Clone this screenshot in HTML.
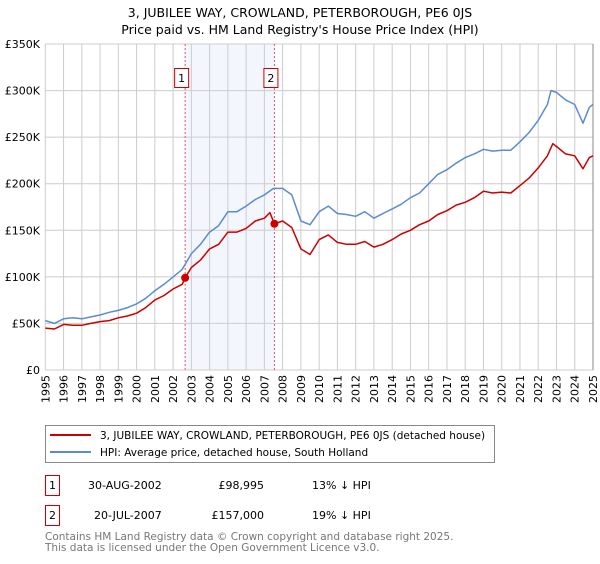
<!DOCTYPE html>
<html><head><meta charset="utf-8"><style>
body{margin:0;background:#fff;font-family:"DejaVu Sans","Liberation Sans",sans-serif;}
svg text{font-family:"DejaVu Sans","Liberation Sans",sans-serif;}
</style></head><body>
<svg id="c" width="600" height="560" viewBox="0 0 600 560" xmlns="http://www.w3.org/2000/svg">
<text x="300" y="17" text-anchor="middle" font-size="12.5" fill="#000">3, JUBILEE WAY, CROWLAND, PETERBOROUGH, PE6 0JS</text>
<text x="300" y="34" text-anchor="middle" font-size="12.5" fill="#000">Price paid vs. HM Land Registry's House Price Index (HPI)</text>
<g id="plot"></g>
<g>
<rect x="45.5" y="425.5" width="449" height="37" fill="#fff" stroke="#888"/>
<line x1="50" y1="435" x2="91" y2="435" stroke="#cc0000" stroke-width="2"/>
<text x="100" y="439" font-size="10.5">3, JUBILEE WAY, CROWLAND, PETERBOROUGH, PE6 0JS (detached house)</text>
<line x1="50" y1="452" x2="91" y2="452" stroke="#5b8bd0" stroke-width="2"/>
<text x="100" y="456" font-size="10.5">HPI: Average price, detached house, South Holland</text>
</g>
<g font-size="11">
<rect x="45.5" y="475.5" width="14" height="20" fill="#fff" stroke="#cc0000"/>
<text x="52.5" y="489" text-anchor="middle">1</text>
<text x="88" y="489">30-AUG-2002</text>
<text x="264" y="489" text-anchor="end">£98,995</text>
<text x="312" y="489">13% ↓ HPI</text>
<rect x="45.5" y="505.5" width="14" height="20" fill="#fff" stroke="#cc0000"/>
<text x="52.5" y="519" text-anchor="middle">2</text>
<text x="94" y="519">20-JUL-2007</text>
<text x="264" y="519" text-anchor="end">£157,000</text>
<text x="312" y="519">19% ↓ HPI</text>
</g>
<text x="45" y="540" font-size="10.5" fill="#777">Contains HM Land Registry data © Crown copyright and database right 2025.</text>
<text x="45" y="551" font-size="10.5" fill="#777">This data is licensed under the Open Government Licence v3.0.</text>
</svg>
<script>
const years=[1995,1996,1997,1998,1999,2000,2001,2002,2003,2004,2005,2006,2007,2008,2009,2010,2011,2012,2013,2014,2015,2016,2017,2018,2019,2020,2021,2022,2023,2024,2025];
const yTicks=[0,50000,100000,150000,200000,250000,300000,350000];
const yTickLabels=["£0","£50K","£100K","£150K","£200K","£250K","£300K","£350K"];
const hpiT=[1995,1995.5,1996,1996.5,1997,1997.5,1998,1998.5,1999,1999.5,2000,2000.5,2001,2001.5,2002,2002.5,2003,2003.5,2004,2004.5,2005,2005.5,2006,2006.5,2007,2007.5,2008,2008.5,2009,2009.5,2010,2010.5,2011,2011.5,2012,2012.5,2013,2013.5,2014,2014.5,2015,2015.5,2016,2016.5,2017,2017.5,2018,2018.5,2019,2019.5,2020,2020.5,2021,2021.5,2022,2022.5,2022.7,2023,2023.5,2024,2024.45,2024.8,2025];
const hpiV=[53,50,55,56,55,57,59,62,64,67,71,77,85,92,100,108,125,135,148,155,170,170,176,183,188,195,195,188,160,156,170,176,168,167,165,170,163,168,173,178,185,190,200,210,215,222,228,232,237,235,236,236,245,255,268,285,300,298,290,285,265,282,285];
const priceT=[1995,1995.5,1996,1996.5,1997,1997.5,1998,1998.5,1999,1999.5,2000,2000.5,2001,2001.5,2002,2002.5,2002.66,2003,2003.5,2004,2004.5,2005,2005.5,2006,2006.5,2007,2007.3,2007.55,2008,2008.5,2009,2009.5,2010,2010.5,2011,2011.5,2012,2012.5,2013,2013.5,2014,2014.5,2015,2015.5,2016,2016.5,2017,2017.5,2018,2018.5,2019,2019.5,2020,2020.5,2021,2021.5,2022,2022.5,2022.8,2023,2023.5,2024,2024.45,2024.8,2025];
const priceV=[45,44,49,48,48,50,52,53,56,58,61,67,75,80,87,92,99,110,118,130,135,148,148,152,160,163,169,157,160,153,130,124,140,145,137,135,135,138,132,135,140,146,150,156,160,167,171,177,180,185,192,190,191,190,198,206,217,230,243,240,232,230,216,228,230];
const saleT=[2002.66,2007.55];
const saleV=[98995,157000];
const saleLabels=["1","2"];
const X0=45.3,X1=593,Y0=370,Y1=44;
const xs=t=>X0+(t-1995)/30*(X1-X0);
const ys=v=>Y0-v/350000*(Y0-Y1);
const NS="http://www.w3.org/2000/svg";
const plot=document.getElementById('plot');
function mk(tag,attrs,parent){const e=document.createElementNS(NS,tag);for(const k in attrs)e.setAttribute(k,attrs[k]);(parent||plot).appendChild(e);return e;}
let sh=mk('rect',{x:xs(saleT[0]),y:Y1,width:xs(saleT[1])-xs(saleT[0]),height:Y0-Y1,fill:'#eef3fc',opacity:0.7});


years.forEach(y=>{const l=mk('line',{x1:xs(y),x2:xs(y),y1:Y1,y2:Y0,stroke:'#cccccc','stroke-width':1});


const t=mk('text',{x:0,y:0,'font-size':11,'text-anchor':'end',transform:`translate(${xs(y)+4},${Y0+5}) rotate(-90)`});t.textContent=y;

});
yTicks.forEach((v,i)=>{const l=mk('line',{x1:X0,x2:X1,y1:ys(v),y2:ys(v),stroke:'#cccccc','stroke-width':1});


const t=mk('text',{x:40,y:ys(v)+4,'font-size':11,'text-anchor':'end'});t.textContent=yTickLabels[i];

});
let ra=mk('line',{x1:X1,x2:X1,y1:Y1,y2:Y0,stroke:'#888','stroke-width':1});


saleT.forEach((t,i)=>{const l=mk('line',{x1:xs(t),x2:xs(t),y1:Y1,y2:Y0,stroke:'#ee5555','stroke-width':1,'stroke-dasharray':'2,2'});


const b=mk('rect',{x:xs(t)-10.5,y:68.5,width:14,height:19,fill:'#fff',stroke:'#cc0000'});


const tx=mk('text',{x:xs(t)-3.5,y:82,'font-size':11,'text-anchor':'middle'});tx.textContent=saleLabels[i];

});
function path(T,V,col,name){const d=T.map((t,i)=>(i?'L':'M')+xs(t).toFixed(1)+','+ys(V[i]*1000).toFixed(1)).join('');
const p=mk('path',{d:d,fill:'none',stroke:col,'stroke-width':1.5,'stroke-linejoin':'round'});

}
path(hpiT,hpiV,'#5b8bd0','hpi-line');
path(priceT,priceV,'#cc0000','price-paid-line');
saleT.forEach((t,i)=>{const c=mk('circle',{cx:xs(t),cy:ys(saleV[i]),r:4,fill:'#cc0000'});

});
</script>
</body></html>
